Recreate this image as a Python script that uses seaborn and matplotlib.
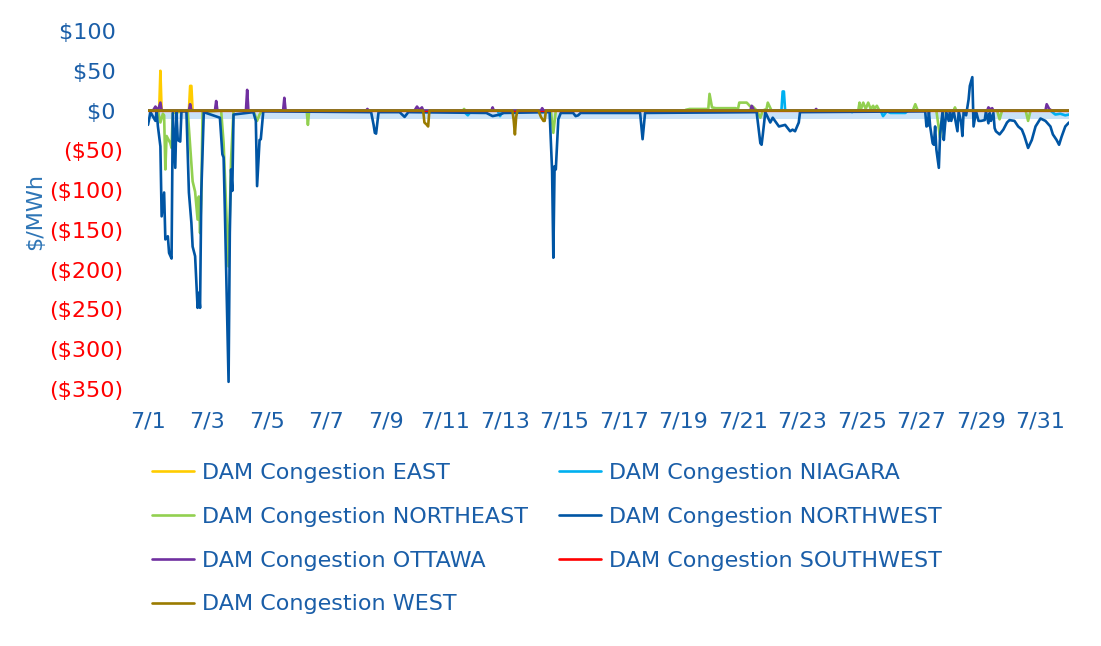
import pandas as pd
import numpy as np
import matplotlib.pyplot as plt
import seaborn as sns

sns.set_style("white")
plt.rcParams["font.family"] = ["DejaVu Sans"]

# Hourly DAM congestion, July (hour 0 = 7/1 00:00), values in $/MWh
east_h = [0, 9, 10, 11, 33, 34, 35, 36, 743]
east_v = [0, 0, 50, 0, 0, 31, 31, 0, 0]

niagara_h = [0, 254, 258, 261, 282, 284, 286, 511, 512, 513, 514, 566, 568, 570,
             591, 593, 596, 599, 605, 611, 613, 728, 732, 736, 740, 743]
niagara_v = [0, 0, -6, 0, 0, -7, 0, 0, 24, 24, 0, 0, -2, 0,
             0, -7, -1, -3, -3, -3, 0, 0, -5, -4, -6, -5]

northeast_h = [0, 8, 10, 12, 13, 14, 15, 18, 19, 20, 32, 36, 38, 40, 41, 42, 43, 44,
               59, 61, 63, 65, 67, 69, 85, 88, 90, 92, 128, 129, 130, 254, 255, 256,
               325, 327, 329, 433, 434, 437, 445, 452, 453, 455, 458, 474, 476, 477,
               483, 486, 488, 491, 494, 496, 499, 500, 503, 573, 574, 575, 577, 579,
               581, 583, 585, 586, 588, 590, 617, 619, 621, 636, 639, 640, 642, 650,
               651, 652, 685, 687, 689, 708, 710, 712, 743]
northeast_v = [0, 0, -15, -4, -6, -74, -32, -41, -47, -3, 0, -89, -102, -137, -108, -154, -110, -2,
               0, -41, -120, -196, -62, 0, 0, -13, -5, 0, 0, -18, 0, 0, 2, 0,
               0, -28, 0, 0, 1, 2, 2, 2, 21, 4, 3, 3, 2, 10,
               10, 5, 5, 0, -9, 0, 2, 10, 0, 0, 10, 1, 10, 2,
               10, 2, 6, 2, 6, 0, 0, 8, 0, 0, -34, -15, 0, 0,
               4, 0, 0, -11, 0, 0, -13, 0, 0]

northwest_h = [0, 2, 6, 7, 8, 10, 11, 13, 14, 16, 17, 19, 20, 22, 23, 24, 26, 27,
               31, 33, 35, 36, 38, 40, 41, 42, 43, 45, 58, 60, 61, 62, 64, 65, 66, 67,
               68, 69, 85, 87, 88, 90, 91, 93, 180, 182, 183, 184, 186, 203, 207, 210,
               273, 278, 284, 287, 324, 326, 327, 328, 329, 331, 333, 343, 345, 347,
               349, 397, 399, 401, 491, 494, 495, 496, 498, 502, 504, 509, 514, 518,
               520, 522, 525, 526, 627, 628, 629, 630, 631, 633, 634, 635, 636, 638,
               639, 641, 642, 643, 644, 646, 647, 648, 650, 653, 654, 656, 657, 658,
               660, 662, 663, 665, 666, 668, 670, 672, 675, 676, 678, 679, 680, 682,
               683, 684, 687, 690, 693, 695, 699, 702, 705, 707, 710, 713, 716, 720,
               724, 728, 730, 733, 735, 737, 740, 743]
northwest_v = [-18, -2, -13, -1, -20, -45, -133, -103, -162, -158, -179, -186, -3, -72, -2, -37, -39, -1,
               -1, -103, -141, -171, -183, -248, -229, -248, -103, -2, -9, -55, -59, -125, -272, -341, -154, -74,
               -101, -5, -2, -13, -95, -37, -36, -1, -2, -18, -28, -29, -2, -2, -8, -2,
               -3, -7, -5, -3, -2, -76, -185, -70, -74, -11, -3, -3, -7, -6,
               -3, -3, -36, -3, -2, -41, -43, -30, -2, -15, -9, -20, -18, -26,
               -24, -26, -15, -2, -1, -20, -19, -1, -20, -41, -43, -20, -49, -72,
               -30, -1, -37, -18, -2, -13, -1, -13, -1, -26, -1, -15, -32, -1,
               -6, 14, 31, 42, -20, -1, -13, -13, -12, -1, -16, -3, -13, -3,
               -22, -26, -30, -24, -15, -12, -13, -20, -24, -32, -47, -37, -20, -10,
               -13, -20, -30, -37, -43, -33, -20, -15]

ottawa_h = [0, 4, 6, 8, 10, 11, 33, 34, 35, 54, 55, 56, 79, 80, 81, 109, 110, 111,
            176, 177, 178, 215, 217, 219, 221, 222, 277, 278, 279, 317, 318, 319,
            486, 487, 489, 538, 539, 540, 677, 678, 680, 681, 682, 724, 725, 727, 729, 743]
ottawa_v = [0, 0, 5, 0, 10, 0, 0, 8, 0, 0, 12, 0, 0, 26, 0, 0, 16, 0,
            0, 2, 0, 0, 5, 1, 4, 0, 0, 4, 0, 0, 3, 0,
            0, 6, 0, 0, 2, 0, 0, 4, 1, 3, 0, 0, 8, 2, 0, 0]

southwest_h = [0, 743]
southwest_v = [0, 0]

west_h = [0, 222, 223, 225, 226, 227, 294, 295, 296, 297, 298, 315, 317, 319, 320, 321, 743]
west_v = [0, 0, -15, -18, -20, 0, 0, -12, -30, -8, 0, 0, -8, -13, -13, 0, 0]

band_floor = -10  # pale shaded strip just under $0

series = {
    "DAM Congestion EAST": (east_h, east_v, "#FFCC00"),
    "DAM Congestion NIAGARA": (niagara_h, niagara_v, "#00B0F0"),
    "DAM Congestion NORTHEAST": (northeast_h, northeast_v, "#92D050"),
    "DAM Congestion NORTHWEST": (northwest_h, northwest_v, "#0055A4"),
    "DAM Congestion OTTAWA": (ottawa_h, ottawa_v, "#7030A0"),
    "DAM Congestion SOUTHWEST": (southwest_h, southwest_v, "#FF0000"),
    "DAM Congestion WEST": (west_h, west_v, "#9A7B00"),
}

day_labels = [f"7/{d}" for d in range(1, 32, 2)]
y_ticks = [100, 50, 0, -50, -100, -150, -200, -250, -300, -350]
text_blue = "#1A5EA8"

fig = plt.figure(figsize=(11.01, 6.46), dpi=100)
ax = fig.add_axes([148 / 1101, 1 - 389 / 646, (1069 - 148) / 1101, (389 - 31) / 646])

ax.fill_between([0, 743], [band_floor, band_floor], [0, 0], color="#C9E2F7", lw=0, zorder=0)

# one call per series so the stacking follows the workbook order (WEST on top);
# the flat SOUTHWEST line is drawn thinner so it doesn't bleed round WEST's edges
for i, (name, (h, v, colour)) in enumerate(series.items()):
    sns.lineplot(
        x=h,
        y=v,
        color=colour,
        linewidth=0.9 if name.endswith("SOUTHWEST") else 1.9,
        estimator=None,
        sort=False,
        label=name,
        zorder=2 + i * 0.1,
        ax=ax,
    )

ax.set_xlim(0, 743)
ax.set_ylim(-350, 100)
ax.set_xticks(range(0, 744, 48))
ax.set_xticklabels(day_labels)
ax.set_yticks(y_ticks)
ax.set_yticklabels([f"${v} " if v >= 0 else f"(${-v})" for v in y_ticks])
for lbl, v in zip(ax.get_yticklabels(), y_ticks):
    lbl.set_color(text_blue if v >= 0 else "#FF0000")
ax.tick_params(axis="y", length=0, pad=18, labelsize=16)
ax.tick_params(axis="x", length=0, pad=16, labelsize=16, labelcolor=text_blue)
ax.set(xlabel=None, ylabel=None)
sns.despine(ax=ax, left=True, bottom=True)

fig.text(35 / 1101, 1 - 211 / 646, "$/MWh", rotation=90, color="#2E75B6",
         fontsize=16, ha="center", va="center")

# Legend: fill rows left to right like the original (column-major in mpl)
handles, labels = ax.get_legend_handles_labels()
if ax.get_legend() is not None:
    ax.get_legend().remove()
lookup = dict(zip(labels, handles))
order = ["DAM Congestion EAST", "DAM Congestion NORTHEAST", "DAM Congestion OTTAWA",
         "DAM Congestion WEST", "DAM Congestion NIAGARA", "DAM Congestion NORTHWEST",
         "DAM Congestion SOUTHWEST"]
leg = fig.legend(
    [lookup[k] for k in order], order,
    loc="upper left",
    bbox_to_anchor=(152 / 1101, 1 - 463 / 646),
    ncol=2,
    frameon=False,
    fontsize=16,
    handlelength=1.9,
    handletextpad=0.35,
    columnspacing=1.4,
    labelspacing=1.07,
    borderpad=0,
    borderaxespad=0,
)
for t in leg.get_texts():
    t.set_color(text_blue)
for h in leg.legend_handles:
    h.set_linewidth(1.9)

fig.savefig("out.png", dpi=100)
